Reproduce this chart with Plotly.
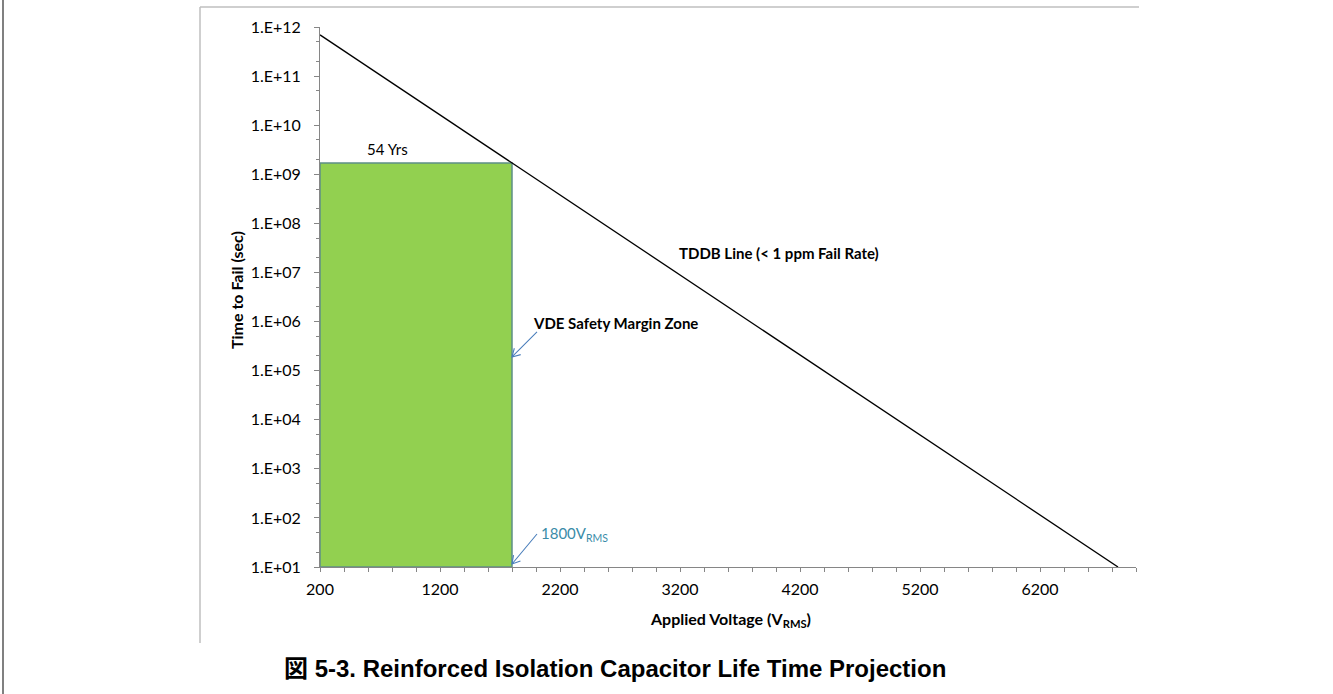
import math
import plotly.graph_objects as go

# TDDB projection line (applied voltage in V_RMS vs. time to fail in seconds)
tddb_voltage = [200, 6850]
tddb_time_sec = [6.9e11, 1.0e1]

# VDE safety margin zone: up to 1800 V_RMS, 54 years of life
zone_voltage = [200, 1800]
zone_years = 54
SEC_PER_YEAR = 365.25 * 24 * 3600
zone_life_sec = zone_years * SEC_PER_YEAR
zone_floor_sec = 1e1

x_tick_vals = [200, 1200, 2200, 3200, 4200, 5200, 6200]
y_exponents = list(range(1, 13))
y_tick_vals = [10.0 ** e for e in y_exponents]
y_tick_text = ["1.E+%02d" % e for e in y_exponents]

X_RANGE = [200, 7000]
Y_RANGE_LOG = [1, 12]

W, H = 1333, 694
M_L, M_R, M_T, M_B = 320, 197, 27, 127
PW = W - M_L - M_R
PH = H - M_T - M_B

LABEL_FONT = "Lato, Carlito, sans-serif"
TICK_FONT = dict(family=LABEL_FONT, size=16, color="#000000")
AXIS_COLOR = "#868686"
ARROW_COLOR = "#4A7EBB"


def xpaper(v):
    return (v - X_RANGE[0]) / (X_RANGE[1] - X_RANGE[0])


def ypaper(t):
    return (math.log10(t) - Y_RANGE_LOG[0]) / (Y_RANGE_LOG[1] - Y_RANGE_LOG[0])


def px_to_paper(x_px, y_px):
    return (x_px - M_L) / PW, (H - M_B - y_px) / PH


fig = go.Figure()

# Green safety margin rectangle
fig.add_trace(go.Scatter(
    x=[zone_voltage[0], zone_voltage[0], zone_voltage[1], zone_voltage[1], zone_voltage[0]],
    y=[zone_floor_sec, zone_life_sec, zone_life_sec, zone_floor_sec, zone_floor_sec],
    mode="lines", fill="toself", fillcolor="#92D050",
    line=dict(color="#5E8E86", width=1.5),
    hoverinfo="skip", showlegend=False,
))

# TDDB line
fig.add_trace(go.Scatter(
    x=tddb_voltage, y=tddb_time_sec, mode="lines",
    line=dict(color="#000000", width=1.3),
    showlegend=False,
))

shapes = []
annotations = []


def open_arrow(head_x, head_y, dx_px, dy_px, color):
    """Line from a tail offset (dx, dy pixels, y up) to the head, with an open V head."""
    hx = head_x * PW
    hy = head_y * PH
    tx, ty = hx + dx_px, hy + dy_px
    ang = math.atan2(dy_px, dx_px)
    wing = 9
    pts = []
    for da in (math.radians(30), -math.radians(30)):
        pts.append((hx + wing * math.cos(ang + da), hy + wing * math.sin(ang + da)))

    def P(x, y):
        return "%.5f %.5f" % (x / PW, y / PH)

    path = "M %s L %s M %s L %s L %s" % (
        P(tx, ty), P(hx, hy), P(*pts[0]), P(hx, hy), P(*pts[1]))
    shapes.append(dict(type="path", xref="paper", yref="paper", path=path,
                       line=dict(color=color, width=1.1)))


# Arrow to the zone edge (VDE Safety Margin Zone)
open_arrow(xpaper(zone_voltage[1]), ypaper(1.9e5), 25, 25, ARROW_COLOR)
# Arrow to the 1800 V_RMS corner
open_arrow(xpaper(zone_voltage[1]), ypaper(1.15e1), 25, 30, ARROW_COLOR)

annotations.append(dict(
    x=760, y=math.log10(zone_life_sec), xref="x", yref="y",
    text="%d Yrs" % zone_years, showarrow=False, yanchor="bottom", yshift=3,
    font=dict(family=LABEL_FONT, size=15, color="#000000"),
))

ax_, ay_ = px_to_paper(677, 253)
annotations.append(dict(
    x=ax_, y=ay_, xref="paper", yref="paper", xanchor="left", yanchor="middle",
    text="<b>TDDB Line (&lt; 1 ppm Fail Rate)</b>", showarrow=False,
    font=dict(family=LABEL_FONT, size=15, color="#000000"),
))

ax_, ay_ = px_to_paper(531, 323)
annotations.append(dict(
    x=ax_, y=ay_, xref="paper", yref="paper", xanchor="left", yanchor="middle",
    text="<b>VDE Safety Margin Zone</b>", showarrow=False,
    font=dict(family=LABEL_FONT, size=15, color="#000000"),
))

ax_, ay_ = px_to_paper(539, 534)
annotations.append(dict(
    x=ax_, y=ay_, xref="paper", yref="paper", xanchor="left", yanchor="middle",
    text="%dV<sub>RMS</sub>" % zone_voltage[1], showarrow=False,
    font=dict(family=LABEL_FONT, size=15, color="#3A8CA8"),
))

# Axis titles
ax_, ay_ = px_to_paper(236, 290)
annotations.append(dict(
    x=ax_, y=ay_, xref="paper", yref="paper", xanchor="center", yanchor="middle",
    text="<b>Time to Fail (sec)</b>", showarrow=False, textangle=-90,
    font=dict(family=LABEL_FONT, size=16, color="#000000"),
))
ax_, ay_ = px_to_paper(730, 619)
annotations.append(dict(
    x=ax_, y=ay_, xref="paper", yref="paper", xanchor="center", yanchor="middle",
    text="<b>Applied Voltage (V<sub>RMS</sub>)</b>", showarrow=False,
    font=dict(family=LABEL_FONT, size=16, color="#000000"),
))

# Figure caption
ax_, ay_ = px_to_paper(615, 668)
annotations.append(dict(
    x=ax_, y=ay_, xref="paper", yref="paper", xanchor="center", yanchor="middle",
    text="<b>図 5-3. Reinforced Isolation Capacitor Life Time Projection</b>",
    showarrow=False,
    font=dict(family="Liberation Sans, Arial, 'Noto Sans CJK JP', sans-serif",
              size=24, color="#000000"),
))

# Chart frame (top and left edges) and page edge
fx0, fy0 = px_to_paper(200, 7)
fx1, _ = px_to_paper(1139, 7)
_, fyb = px_to_paper(200, 643)
shapes.append(dict(type="line", xref="paper", yref="paper", x0=fx0, x1=fx1, y0=fy0, y1=fy0,
                   line=dict(color="#BFBFBF", width=1.5)))
shapes.append(dict(type="line", xref="paper", yref="paper", x0=fx0, x1=fx0, y0=fy0, y1=fyb,
                   line=dict(color="#BFBFBF", width=1.5)))
ex, ey_top = px_to_paper(3, 0)
_, ey_bot = px_to_paper(3, H)
shapes.append(dict(type="line", xref="paper", yref="paper", x0=ex, x1=ex, y0=ey_top, y1=ey_bot,
                   line=dict(color="#808080", width=2)))

fig.update_layout(
    width=W, height=H,
    margin=dict(l=M_L, r=M_R, t=M_T, b=M_B),
    paper_bgcolor="#FFFFFF", plot_bgcolor="#FFFFFF",
    showlegend=False,
    shapes=shapes, annotations=annotations,
    xaxis=dict(
        range=X_RANGE, tickvals=x_tick_vals, ticks="outside", ticklen=4,
        tickcolor=AXIS_COLOR, showline=True, linecolor=AXIS_COLOR, linewidth=1,
        showgrid=False, zeroline=False, tickfont=TICK_FONT, ticklabelstandoff=4,
        minor=dict(dtick=200, tick0=200, ticks="outside", ticklen=4, tickcolor=AXIS_COLOR,
                   showgrid=False),
    ),
    yaxis=dict(
        type="log", range=Y_RANGE_LOG, tickvals=y_tick_vals, ticktext=y_tick_text,
        ticks="outside", ticklen=5, tickcolor=AXIS_COLOR, showline=True,
        linecolor=AXIS_COLOR, linewidth=1, showgrid=False, zeroline=False,
        tickfont=TICK_FONT, ticklabelstandoff=10,
        minor=dict(ticks="outside", ticklen=3, tickcolor=AXIS_COLOR, showgrid=False),
    ),
)

fig.write_html("out.html")
